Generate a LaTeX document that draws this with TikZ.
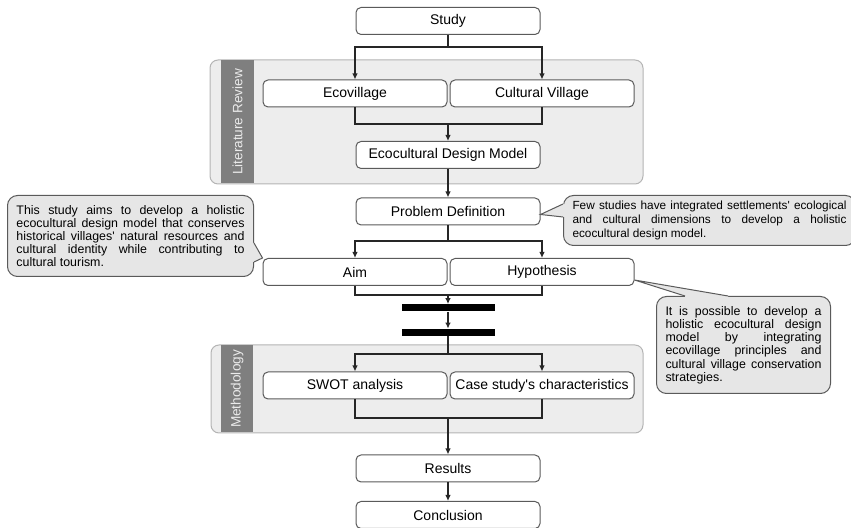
\documentclass[tikz,border=0pt]{standalone}
\usepackage{fontspec}
\setmainfont{Liberation Sans}
\usetikzlibrary{arrows.meta,calc}
\definecolor{boxline}{HTML}{5A5A5A}
\definecolor{panelfill}{HTML}{EDEDED}
\definecolor{panelline}{HTML}{B4B4B4}
\definecolor{tabfill}{HTML}{7F7F7F}
\definecolor{notefill}{HTML}{E6E6E6}

\begin{document}
\begin{tikzpicture}[x=0.5pt, y=-0.5pt,
	box/.style={draw=boxline, fill=white, rounded corners=2.5pt, line width=0.5pt, minimum width=92pt, minimum height=13.5pt, inner sep=0pt, font=\fontsize{7}{8}\selectfont},
	bar/.style={fill=black, minimum width=46.5pt, minimum height=3.5pt, inner sep=0pt},
	panel/.style={draw=panelline, fill=panelfill, line width=0.5pt, rounded corners=4pt},
	tablabel/.style={rotate=90, text=white!92!black, font=\fontsize{6.8}{7}\selectfont},
	note/.style={draw=boxline, fill=notefill, line width=0.5pt, rounded corners=5pt, align=justify, inner xsep=4.5pt, inner ysep=0pt, font=\fontsize{6.2}{6.6}\selectfont},
	link/.style={line width=0.75pt, black!85},
	arr/.style={link, -{Latex[length=3pt, width=2.8pt]}},
	ptr/.style={draw=boxline, line width=0.5pt}]
		\useasboundingbox (0,0) rectangle (851,528);
		\clip (0,0) rectangle (851,528);
		
		% Riquadri di sfondo
		\draw[panel] (210,60) rectangle (643,184);
		\fill[tabfill] (221,60.5) rectangle (254,183.5);
		\node[tablabel] (LitTab) at (237.5,122) {Literature Review};
		\draw[panel] (211,345) rectangle (643,433);
		\fill[tabfill] (221,345.5) rectangle (253,432.5);
		\node[tablabel] (MethTab) at (237,389) {Methodology};
		
		% Nodi
		\node[box] (Study) at (448,21) {Study};
		\node[box] (Eco) at (355,93.5) {Ecovillage};
		\node[box] (Cult) at (542,93.5) {Cultural Village};
		\node[box] (Model) at (448,155) {Ecocultural Design Model};
		\node[box] (Problem) at (448,211.5) {Problem Definition};
		\node[box] (Aim) at (355,272) {Aim};
		\node[box] (Hyp) at (542,272) {Hypothesis};
		\node[bar] (BarA) at (448,308) {};
		\node[bar] (BarB) at (448,332.5) {};
		\node[box] (Swot) at (355,385.5) {SWOT analysis};
		\node[box] (Case) at (542,385.5) {Case study\textquotesingle s characteristics};
		\node[box] (Results) at (448,468.5) {Results};
		\node[box] (Concl) at (448,515) {Conclusion};
		
		\coordinate (SplitA) at (448,47);
		\coordinate (JoinA) at (448,124);
		\coordinate (SplitB) at (448,241);
		\coordinate (JoinB) at (448,295);
		\coordinate (SplitC) at (448,354);
		\coordinate (JoinC) at (448,418);
		
		% Collegamenti
		\draw[link] (Study.south) -- (SplitA);
		\draw[arr] (SplitA) -| (Eco.north);
		\draw[arr] (SplitA) -| (Cult.north);
		\draw[link] (Eco.south) |- (JoinA) -| (Cult.south);
		\draw[arr] (JoinA) -- (Model.north);
		\draw[arr] (Model.south) -- (Problem.north);
		\draw[link] (Problem.south) -- (SplitB);
		\draw[arr] (SplitB) -| (Aim.north);
		\draw[arr] (SplitB) -| (Hyp.north);
		\draw[link] (Aim.south) |- (JoinB) -| (Hyp.south);
		\draw[arr] (JoinB) -- (BarA.north);
		\draw[arr] (BarA.south) -- (BarB.north);
		\draw[link] (BarB.south) -- (SplitC);
		\draw[arr] (SplitC) -| (Swot.north);
		\draw[arr] (SplitC) -| (Case.north);
		\draw[link] (Swot.south) |- (JoinC) -| (Case.south);
		\draw[arr] (JoinC) -- (Results.north);
		\draw[arr] (Results.south) -- (Concl.north);
		
		% Note
		\node[note, text width=114pt, minimum height=40.5pt, anchor=north west] (AimNote) at (7,195) {This study aims to develop a holistic\linebreak ecocultural design model that conserves\linebreak historical villages\textquotesingle{} natural resources and\linebreak cultural identity while contributing to\linebreak cultural tourism.};
		\fill[notefill] ($(AimNote.north east)+(0,48)$) -- (Aim.north west) -- ($(AimNote.north east)+(0,67)$) -- ($(AimNote.north east)+(-4,67)$) -- ($(AimNote.north east)+(-4,48)$) -- cycle;
		\draw[ptr] ($(AimNote.north east)+(0,48)$) -- (Aim.north west) -- ($(AimNote.north east)+(0,67)$);
		
		\node[note, text width=137pt, minimum height=25pt, anchor=north west, font=\fontsize{5.9}{6.8}\selectfont] (ProbNote) at (563,195) {Few studies have integrated settlements\textquotesingle{} ecological\linebreak and cultural dimensions to develop a holistic\linebreak ecocultural design model.};
		\fill[notefill] ($(ProbNote.north west)+(0,9)$) -- ($(Problem.east)+(0,3)$) -- ($(ProbNote.north west)+(0,22)$) -- ($(ProbNote.north west)+(4,22)$) -- ($(ProbNote.north west)+(4,9)$) -- cycle;
		\draw[ptr] ($(ProbNote.north west)+(0,9)$) -- ($(Problem.east)+(0,3)$) -- ($(ProbNote.north west)+(0,22)$);
		
		\node[note, text width=78pt, minimum height=48.5pt, anchor=north west] (HypNote) at (656,296) {It is possible to develop a\linebreak holistic ecocultural design\linebreak model by integrating\linebreak ecovillage principles and\linebreak cultural village conservation\linebreak strategies.};
		\fill[notefill] ($(HypNote.north west)+(29,0)$) -- ($(Hyp.east)+(0,8)$) -- ($(HypNote.north west)+(72,0)$) -- ($(HypNote.north west)+(72,4)$) -- ($(HypNote.north west)+(29,4)$) -- cycle;
		\draw[ptr] ($(HypNote.north west)+(29,0)$) -- ($(Hyp.east)+(0,8)$) -- ($(HypNote.north west)+(72,0)$);
	\end{tikzpicture}
\end{document}
